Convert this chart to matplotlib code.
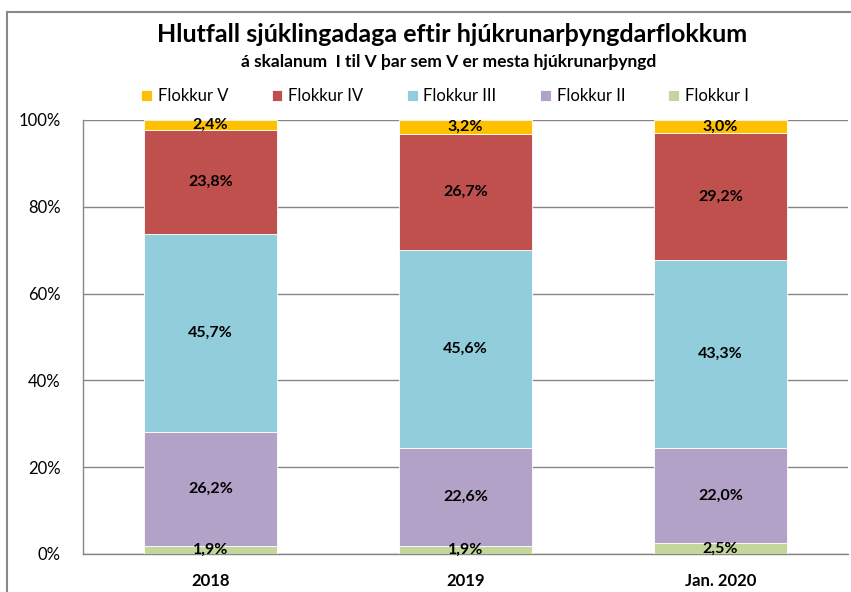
import numpy as np
import matplotlib.pyplot as plt
from matplotlib.patches import Rectangle

plt.rcParams['font.family'] = ['Lato', 'DejaVu Sans']

# Data
years = ['2018', '2019', 'Jan. 2020']
flokkur_I = [1.9, 1.9, 2.5]
flokkur_II = [26.2, 22.6, 22.0]
flokkur_III = [45.7, 45.6, 43.3]
flokkur_IV = [23.8, 26.7, 29.2]
flokkur_V = [2.4, 3.2, 3.0]

series = [
    ('Flokkur I', flokkur_I, '#C3D69B'),
    ('Flokkur II', flokkur_II, '#B3A2C7'),
    ('Flokkur III', flokkur_III, '#92CDDC'),
    ('Flokkur IV', flokkur_IV, '#C0504D'),
    ('Flokkur V', flokkur_V, '#FFC000'),
]

fig = plt.figure(figsize=(8.51, 5.92), dpi=100)
ax = fig.add_axes([83 / 851, 1 - 554 / 592, (848 - 83) / 851, (554 - 120) / 592])

x = np.arange(len(years))
bottom = np.zeros(len(years))
handles = {}
for name, vals, color in series:
    vals = np.array(vals)
    bars = ax.bar(x, vals, width=0.52, bottom=bottom, color=color,
                  edgecolor='white', linewidth=0.6, zorder=3)
    handles[name] = bars
    for xi, b, v in zip(x, bottom, vals):
        ax.text(xi, b + v / 2, f'{v:.1f}%'.replace('.', ','), ha='center', va='center',
                fontsize=11.5, fontweight='bold', zorder=4)
    bottom += vals

ax.set_xlim(-0.5, 2.5)
ax.set_ylim(0, 100)
ax.set_yticks(range(0, 101, 20))
ax.set_yticklabels([f'{t}%' for t in range(0, 101, 20)], fontsize=12)
ax.set_xticks(x)
ax.set_xticklabels(years, fontsize=12, fontweight='bold')
ax.tick_params(axis='both', length=0)
ax.tick_params(axis='y', pad=16)
ax.tick_params(axis='x', pad=14)
ax.yaxis.grid(True, color='#868686', linewidth=1, zorder=0)
for s in ['top', 'right']:
    ax.spines[s].set_visible(False)
for s in ['left', 'bottom']:
    ax.spines[s].set_color('#868686')
    ax.spines[s].set_linewidth(1)

# Title and subtitle
fig.text(452 / 851, 1 - 34 / 592, 'Hlutfall sjúklingadaga eftir hjúkrunarþyngdarflokkum',
         ha='center', va='center', fontsize=18, fontweight='bold')
fig.text(449 / 851, 1 - 62 / 592, 'á skalanum  I til V þar sem V er mesta hjúkrunarþyngd',
         ha='center', va='center', fontsize=12.5, fontweight='bold')

# Legend
order = ['Flokkur V', 'Flokkur IV', 'Flokkur III', 'Flokkur II', 'Flokkur I']
fig.legend([handles[n] for n in order], order, ncol=5, loc='center',
           bbox_to_anchor=(445 / 851, 1 - 96 / 592), frameon=False, fontsize=12,
           handlelength=0.65, handleheight=0.65, handletextpad=0.35, columnspacing=2.6)

# Outer chart border
fig.add_artist(Rectangle((7 / 851, -0.1), 1.2, (1 - 12 / 592) + 0.1, fill=False,
                         edgecolor='#898989', linewidth=1.5, transform=fig.transFigure))

fig.savefig('out.png', dpi=100)
